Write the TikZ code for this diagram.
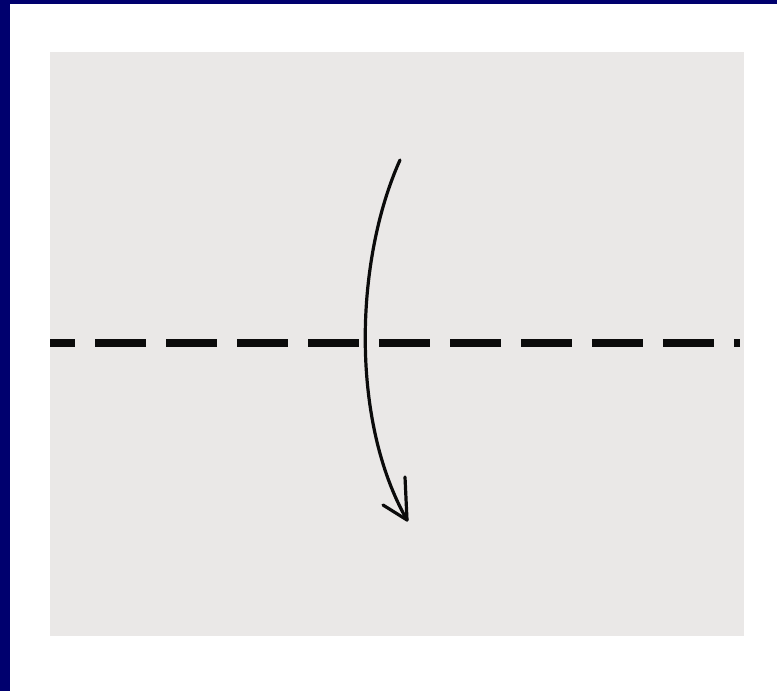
\documentclass[tikz,border=0pt]{standalone}
\usepackage{xcolor}
\usepackage{tikz}
\usetikzlibrary{arrows.meta,positioning}
\definecolor{framenavy}{HTML}{00006E}
\definecolor{paperwhite}{HTML}{EAE8E7}
\definecolor{inkblack}{HTML}{0B0B0B}

\begin{document}
\begin{tikzpicture}[
  x=1pt, y=-1pt,
  paper/.style={fill=paperwhite, draw=none},
  foldline/.style={draw=inkblack, line width=8pt, line cap=butt,
                   dash pattern=on 51pt off 20pt, dash phase=26pt},
  turn/.style={draw=inkblack, line width=3.2pt, line cap=round},
]
  \useasboundingbox (0,0) rectangle (777,691);
  \fill[white] (0,0) rectangle (777,691);
  % navy frame on the left and top
  \fill[framenavy] (0,0) rectangle (10,691);
  \fill[framenavy] (0,0) rectangle (777,4);
  % sheet of paper
  \fill[paper] (50,52) rectangle (744,636);

  \coordinate (foldL) at (50,343);
  \coordinate (foldR) at (740,343);
  \coordinate (start) at (400,160);
  \coordinate (tip) at (407,520);

  \draw[foldline] (foldL) -- (foldR);
  \draw[turn] (start) .. controls (355,260) and (350,420) .. (tip);
  \draw[turn] (tip) -- ++(-2,-43);
  \draw[turn] (tip) -- ++(-24,-15);
\end{tikzpicture}
\end{document}
